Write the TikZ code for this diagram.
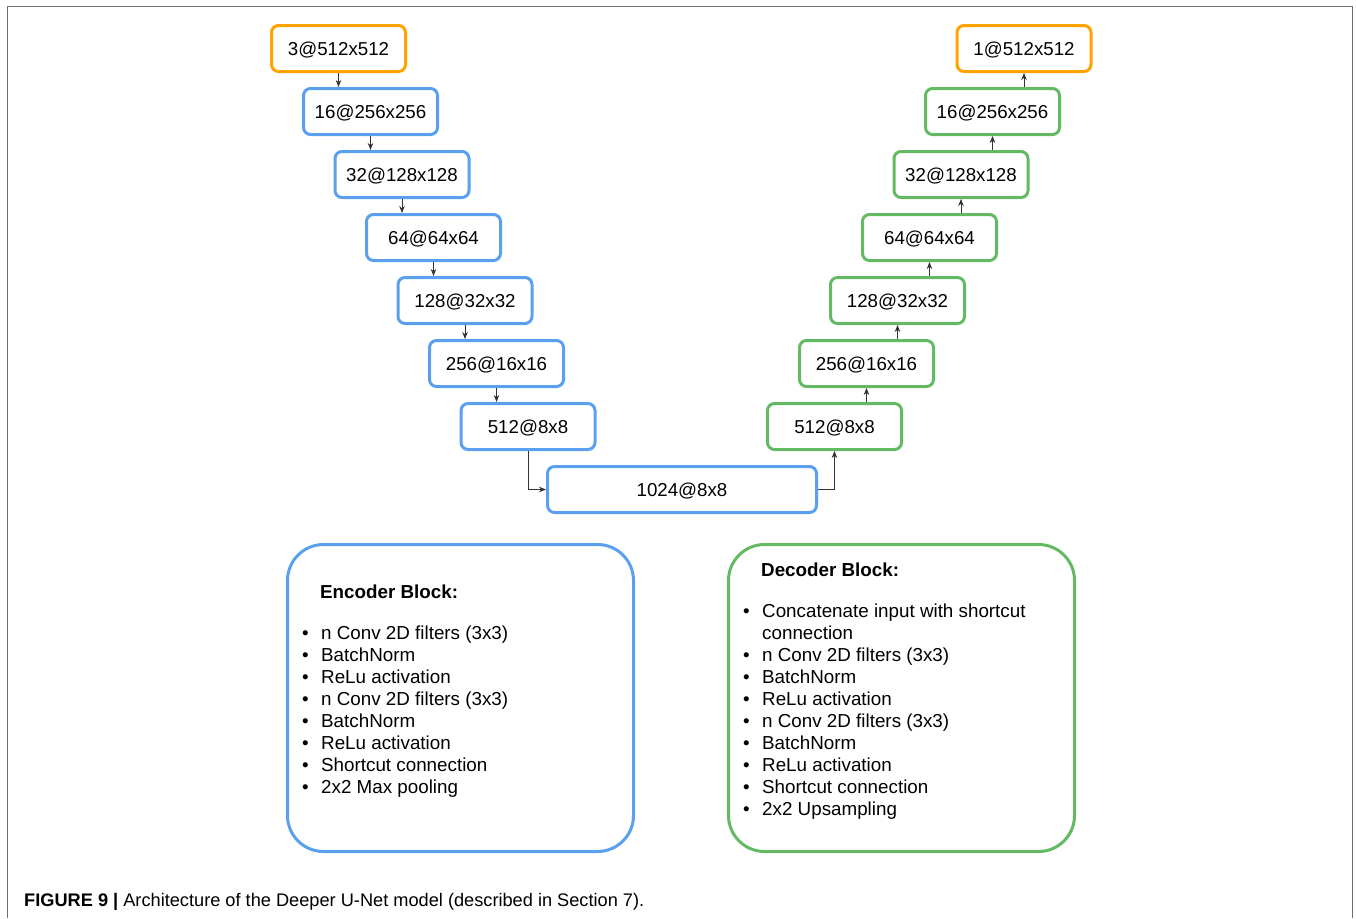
\documentclass[tikz,border=0pt]{standalone}
\usepackage{fontspec}
\setmainfont{Liberation Sans}
\usetikzlibrary{arrows.meta}
\definecolor{encblue}{RGB}{90,160,238}
\definecolor{decgreen}{RGB}{100,186,98}
\definecolor{ioorange}{RGB}{255,163,0}
\definecolor{framegray}{RGB}{110,110,110}
\newcommand\blt{\makebox[19pt][l]{\textbullet}}
\begin{document}
\begin{tikzpicture}[x=1pt,y=-1pt,
  layer/.style={draw, line width=3pt, rounded corners=7pt, minimum width=134pt,
    minimum height=46pt, inner sep=0pt, fill=white, text depth=0pt,
    font=\fontsize{18.7}{22}\selectfont},
  enc/.style={layer, draw=encblue},
  dec/.style={layer, draw=decgreen},
  io/.style={layer, draw=ioorange},
  blockbox/.style={draw, line width=3pt, rounded corners=36pt,
    minimum width=346pt, minimum height=307pt, inner sep=0pt},
  arr/.style={draw=black!80, line width=0.8pt, -{Stealth[length=7pt,width=5.5pt]}},
  blocktext/.style={anchor=base west, inner sep=0pt, font=\fontsize{18.8}{22}\selectfont},
]
\useasboundingbox (0,0) rectangle (1356,918);
\draw[framegray, line width=1.3pt] (7.5,918) -- (7.5,6.5) -- (1352.5,6.5) -- (1352.5,918);

% encoder
\node[io]  (enc1) at (338.5,48.5)  {3@512x512};
\node[enc] (enc2) at (370.5,111.5) {16@256x256};
\node[enc] (enc3) at (402,174.5)   {32@128x128};
\node[enc] (enc4) at (433.5,237.5) {64@64x64};
\node[enc] (enc5) at (465,300.5)   {128@32x32};
\node[enc] (enc6) at (496.5,363.5) {256@16x16};
\node[enc] (enc7) at (528,426.5)   {512@8x8};
\node[enc, minimum width=269pt] (bott) at (682,489.5) {1024@8x8};
% decoder
\node[dec] (dec7) at (834.5,426.5) {512@8x8};
\node[dec] (dec6) at (866.5,363.5) {256@16x16};
\node[dec] (dec5) at (897.5,300.5) {128@32x32};
\node[dec] (dec4) at (929.5,237.5) {64@64x64};
\node[dec] (dec3) at (961,174.5)   {32@128x128};
\node[dec] (dec2) at (992.5,111.5) {16@256x256};
\node[io]  (dec1) at (1024,48.5)   {1@512x512};

% encoder arrows
\foreach \a/\b in {enc1/enc2,enc2/enc3,enc3/enc4,enc4/enc5,enc5/enc6,enc6/enc7}
  \draw[arr] (\a.south) -- (\a.south |- \b.north);
\draw[arr] (enc7.south) |- (bott.west);
\draw[arr] (bott.east) -| (dec7.south);
% decoder arrows
\foreach \a/\b in {dec7/dec6,dec6/dec5,dec5/dec4,dec4/dec3,dec3/dec2,dec2/dec1}
  \draw[arr] (\b.south |- \a.north) -- (\b.south);

% blocks
\node[blockbox, draw=encblue]  (encblock) at (460.5,698) {};
\node[blockbox, draw=decgreen] (decblock) at (901.5,698) {};

\node[blocktext] (enchead) at (320,598) {\textbf{Encoder Block:}};
\node[blocktext] (enclist) at (302,639) {\parbox[t]{320pt}{\fontsize{18.8}{22}\selectfont
\blt n Conv 2D filters (3x3)\\
\blt BatchNorm\\
\blt ReLu activation\\
\blt n Conv 2D filters (3x3)\\
\blt BatchNorm\\
\blt ReLu activation\\
\blt Shortcut connection\\
\blt 2x2 Max pooling}};

\node[blocktext] (dechead) at (761,576) {\textbf{Decoder Block:}};
\node[blocktext] (declist) at (743,617) {\parbox[t]{320pt}{\fontsize{18.8}{22}\selectfont
\blt Concatenate input with shortcut\\
\hspace*{19pt}connection\\
\blt n Conv 2D filters (3x3)\\
\blt BatchNorm\\
\blt ReLu activation\\
\blt n Conv 2D filters (3x3)\\
\blt BatchNorm\\
\blt ReLu activation\\
\blt Shortcut connection\\
\blt 2x2 Upsampling}};

\node[anchor=base west, inner sep=0pt, font=\fontsize{18.2}{22}\selectfont] (caption) at (24,906)
  {\textbf{FIGURE 9 |} Architecture of the Deeper U-Net model (described in Section 7).};
\end{tikzpicture}
\end{document}
